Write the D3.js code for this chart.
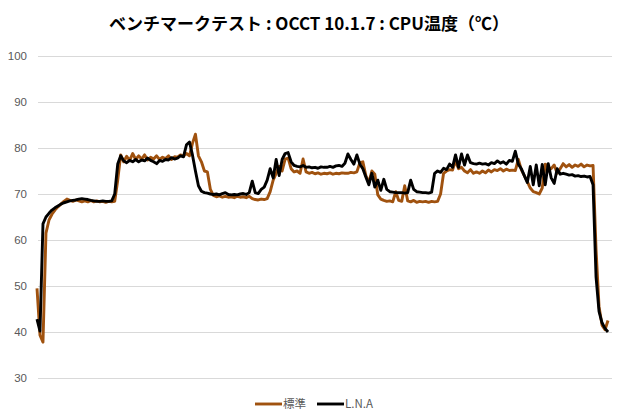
<!DOCTYPE html>
<html><head><meta charset="utf-8">
<script src="https://cdn.jsdelivr.net/npm/d3@7"></script>
<style>html,body{margin:0;padding:0;background:#fff;}</style>
</head><body>
<svg id="c" width="620" height="420"></svg>
<script>
const title = "ベンチマークテスト : OCCT 10.1.7 : CPU温度（℃）";
const seriesNames = ["標準", "L.N.A"];
const yTicks = [30, 40, 50, 60, 70, 80, 90, 100];
const standard = [
49.5,39.3,37.8,61.5,64.3,65.6,66.5,67.2,67.8,68.4,
68.9,68.6,68.4,68.7,68.5,68.3,68.5,68.3,68.6,68.3,
68.5,68.3,68.4,68.2,68.4,68.3,68.4,73,78.5,77,
78.2,77.3,78.8,77.5,78.3,77.6,78.5,77.4,78,77.6,
78.3,77.5,78,77.7,78.3,77.5,78.1,78,78.5,78.2,
78.8,78.3,81,83,78.3,77,75,74.8,71,69.7,
69.4,69.6,69.3,69.5,69.3,69.4,69.2,69.5,69.3,69.4,
69.2,69.5,69,68.8,68.7,68.9,68.8,69,70.5,73,
74.5,76,75,77.6,77.8,75.5,74.8,75,74.5,77.6,
74.8,74.5,74.7,74.4,74.6,74.3,74.5,74.4,74.6,74.3,
74.5,74.4,74.6,74.5,74.5,74.7,74.6,74.8,76.8,77,
74,72.5,75,74.3,69.8,68.9,68.6,68.4,68.5,68.3,
70.5,68.6,68.4,71.8,68.5,68.3,68.6,68.2,68.4,68.3,
68.4,68.2,68.4,68.3,68.4,70,74.5,75,75.3,75.2,
77.2,75.5,75.8,75,74.6,75.3,74.5,74.8,74.5,75,
74.6,75.2,74.8,75.3,75.1,75.5,75,75.4,75.1,75.2,
75.1,77.5,75.3,74,72.7,71.3,70.5,70.3,70,71.3,
76.5,75.8,75.5,76.3,74.5,75.5,76.6,75.9,76.4,75.8,
76.3,76,76.5,75.9,76.3,76.1,76.2,58,45.5,41.5,
40.5,42.5
];
const lna = [
42.8,40.2,63.5,65,65.8,66.5,67,67.4,67.8,68.1,
68.3,68.5,68.6,68.7,68.9,69,68.9,68.8,68.6,68.5,
68.4,68.4,68.5,68.4,68.4,68.5,70,76.5,78.3,77.2,
76.8,77.3,77,77.5,77,77.4,77.2,77.8,77.3,77,
76.6,77.3,77.1,77.5,77.4,77.9,77.6,77.8,78.3,78.1,
80.7,81.3,78.5,75,71.8,70.6,70.3,70.2,70,69.9,
70,69.8,70.1,70.3,69.9,69.8,69.9,69.8,70,70.1,
69.9,70.3,72.8,70.3,70.1,71,71.5,73,75.5,73.5,
77.5,74,77.5,78.8,79,77,76.2,76,75.9,76.2,
75.8,75.9,75.7,75.8,75.6,75.9,75.8,75.8,76,75.8,
76.1,76.2,76,76.7,78.7,77.5,76.5,78.5,76.5,75.5,
73.7,72,74.5,71.5,73,70.8,73.2,71,70.5,70.4,
70.3,70.3,70.3,70.2,70.3,73,71,70.5,70.4,70.3,
70.3,70.2,70.4,74.5,75,74.7,75.6,75.3,76.5,75.8,
78.5,75.8,78.7,76.3,78.5,76.8,76.6,76.5,76.7,76.5,
76.6,76.3,76.8,76.6,77.2,76.7,77,76.5,77.3,77.1,
79.3,76.5,75.5,74,72.5,76,72,76.3,71.8,76.4,
72,76.6,73.5,72.3,75.5,74.3,74.5,74.3,74.1,74.2,
73.9,74,73.8,73.9,73.7,73.8,72,52,44.5,42,
40.8,40
];
const colors = ["#a0520f", "#000000"];

const svg = d3.select("#c");
const x = d3.scaleLinear().domain([0, standard.length - 1]).range([37, 608]);
const y = d3.scaleLinear().domain([30, 100]).range([378, 56]);

svg.append("text").attr("x", 309).attr("y", 30).attr("text-anchor", "middle")
  .attr("font-family", "'Noto Sans CJK JP', sans-serif").attr("font-weight", "bold")
  .attr("font-size", 17).attr("fill", "#000").text(title);

const yAxis = d3.axisLeft(y).tickValues(yTicks).tickSize(-(612 - 38)).tickPadding(11);
const ga = svg.append("g").attr("transform", "translate(38,0)").call(yAxis);
ga.select(".domain").remove();
ga.selectAll(".tick line").attr("stroke", "#d9d9d9").attr("stroke-width", 1);
ga.selectAll(".tick text").attr("fill", "#595959").attr("font-size", 11.5)
  .attr("font-family", "'Liberation Sans', Arial, sans-serif");

const line = d3.line().x((d, i) => x(i)).y(d => y(d));
[standard, lna].forEach((s, k) => {
  svg.append("path").datum(s).attr("d", line).attr("fill", "none")
    .attr("stroke", colors[k]).attr("stroke-width", 2.9).attr("stroke-linejoin", "round");
});

const leg = svg.append("g");
const lx = [255, 317];
seriesNames.forEach((n, k) => {
  leg.append("line").attr("x1", lx[k]).attr("x2", lx[k] + 27).attr("y1", 404).attr("y2", 404)
    .attr("stroke", colors[k]).attr("stroke-width", 2.9);
  leg.append("text").attr("x", lx[k] + 28).attr("y", 408).attr("fill", "#595959")
    .attr("font-size", 11.5).attr("font-family", "'Noto Sans CJK JP', 'Liberation Sans', sans-serif").text(n);
});
</script>
</body></html>
